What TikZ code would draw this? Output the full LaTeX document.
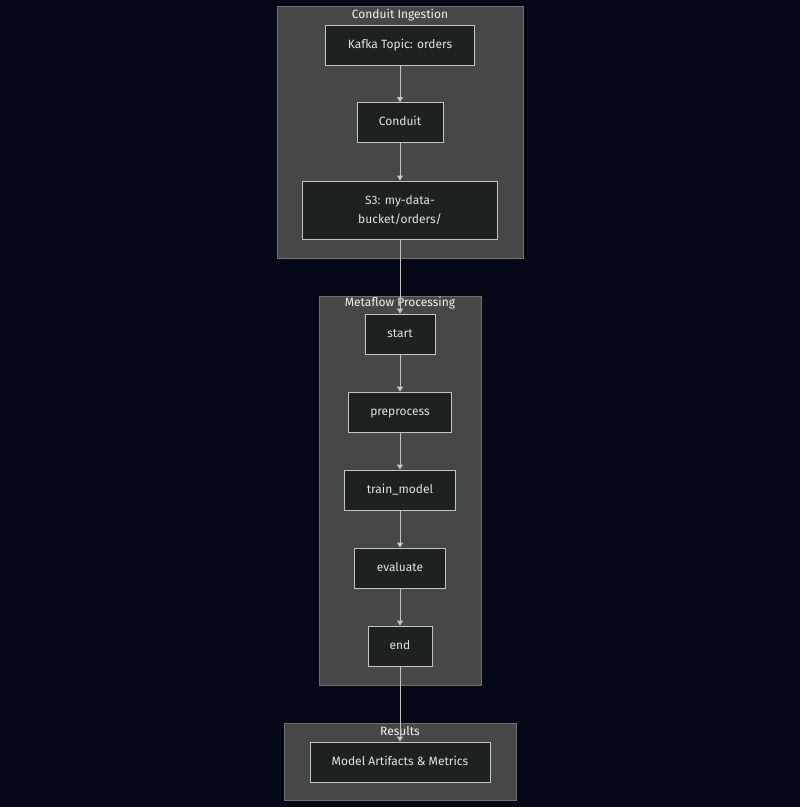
\documentclass[tikz,border=0pt]{standalone}
\usepackage{fontspec}
\setmainfont{Fira Sans}
\usetikzlibrary{arrows.meta}
\definecolor{bgnavy}{HTML}{020816}
\definecolor{clusterfill}{HTML}{474747}
\definecolor{clusterline}{HTML}{707070}
\definecolor{boxfill}{HTML}{1F2020}
\definecolor{boxline}{HTML}{C4C4C4}
\definecolor{labeltext}{HTML}{E2E2E2}
\tikzset{%
    cluster/.style={fill=clusterfill, draw=clusterline, line width=0.8pt},
    clustertitle/.style={text=white!95!black, inner sep=0pt,
        font=\fontsize{12}{13}\selectfont},
    flowbox/.style={fill=boxfill, draw=boxline, line width=0.8pt,
        text=labeltext, minimum height=40pt, inner sep=0pt, align=center,
        text height=8.5pt, text depth=2.5pt,
        font=\fontsize{12}{19}\selectfont},
    flowarrow/.style={draw=boxline, line width=0.9pt,
        -{Triangle[length=5pt, width=6pt]}}
}

\begin{document}
\begin{tikzpicture}[x=1pt, y=-1pt]

    \fill[bgnavy] (0, 0) rectangle (800, 807);
    \useasboundingbox (0, 0) rectangle (800, 807);

    % subgraphs
    \draw[cluster] (277, 6) rectangle (523, 258);
    \draw[cluster] (319, 296) rectangle (481, 685);
    \draw[cluster] (284, 723) rectangle (516, 800);

    \node[clustertitle] (ingesttitle) at (400, 15) {Conduit Ingestion};
    \node[clustertitle] (flowtitle) at (400, 303) {Metaflow Processing};
    \node[clustertitle] (resulttitle) at (400, 731) {Results};

    % ingestion
    \node[flowbox, minimum width=149pt] (kafka) at (400, 45)
        {Kafka Topic: orders};
    \node[flowbox, minimum width=86pt] (conduit) at (400, 122.5) {Conduit};
    \node[flowbox, minimum width=195pt, minimum height=58pt,
        text height=, text depth=] (bucket)
        at (400, 210) {S3: my-data-\\bucket/orders/};

    % metaflow steps
    \node[flowbox, minimum width=70pt] (start) at (400, 334) {start};
    \node[flowbox, minimum width=103pt] (preprocess) at (400, 412)
        {preprocess};
    \node[flowbox, minimum width=111pt] (trainmodel) at (400, 490)
        {train\_model};
    \node[flowbox, minimum width=91pt] (evaluate) at (400, 568) {evaluate};
    \node[flowbox, minimum width=64pt] (stop) at (400, 646) {end};

    % results
    \node[flowbox, minimum width=180pt] (artifacts) at (400, 762)
        {Model Artifacts \& Metrics};

    \draw[flowarrow] (kafka) -- (conduit);
    \draw[flowarrow] (conduit) -- (bucket);
    \draw[flowarrow] (bucket) -- (start);
    \draw[flowarrow] (start) -- (preprocess);
    \draw[flowarrow] (preprocess) -- (trainmodel);
    \draw[flowarrow] (trainmodel) -- (evaluate);
    \draw[flowarrow] (evaluate) -- (stop);
    \draw[flowarrow] (stop) -- (artifacts);

\end{tikzpicture}
\end{document}
